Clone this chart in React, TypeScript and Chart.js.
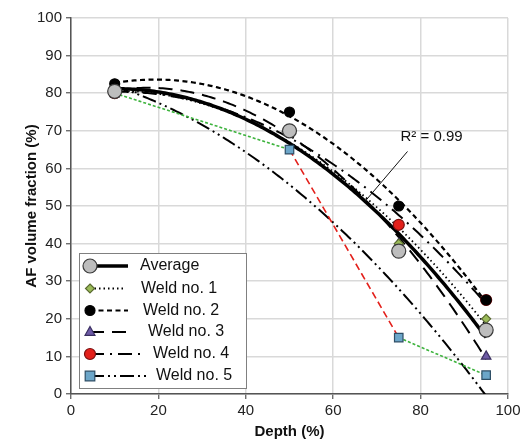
import { useEffect, useRef } from "react";
import { Chart, registerables } from "chart.js";
Chart.register(...registerables);

const depths = [10, 50, 75, 95];
const average = [80.5, 70, 38, 17];
const weld1 = [80, 70, 40, 20];
const weld2 = [82.5, 75, 50, 25];
const weld3 = [80.5, 70, 40, 10];
const weld4 = [80, 70, 45, 25];
const weld5 = [80, 65, 15, 5];
const seriesNames = ["Average", "Weld no. 1", "Weld no. 2", "Weld no. 3", "Weld no. 4", "Weld no. 5"];
const rSquaredLabel = "R² = 0.99";
const xTitle = "Depth (%)";
const yTitle = "AF volume fraction (%)";

const FONT = "'Liberation Sans', Arial, sans-serif";

function polyfit2(xs: number[], ys: number[]) {
  let s0 = 0, s1 = 0, s2 = 0, s3 = 0, s4 = 0, t0 = 0, t1 = 0, t2 = 0;
  xs.forEach((x, i) => {
    const y = ys[i];
    s0 += 1; s1 += x; s2 += x * x; s3 += x ** 3; s4 += x ** 4;
    t0 += y; t1 += x * y; t2 += x * x * y;
  });
  const M = [
    [s4, s3, s2, t2],
    [s3, s2, s1, t1],
    [s2, s1, s0, t0],
  ];
  for (let c = 0; c < 3; c++) {
    for (let r = c + 1; r < 3; r++) {
      const f = M[r][c] / M[c][c];
      for (let k = c; k < 4; k++) M[r][k] -= f * M[c][k];
    }
  }
  const sol = [0, 0, 0];
  for (let r = 2; r >= 0; r--) {
    let v = M[r][3];
    for (let k = r + 1; k < 3; k++) v -= M[r][k] * sol[k];
    sol[r] = v / M[r][r];
  }
  return (x: number) => sol[0] * x * x + sol[1] * x + sol[2];
}

function trend(ys: number[]) {
  const f = polyfit2(depths, ys);
  const pts: { x: number; y: number }[] = [];
  for (let x = depths[0]; x <= depths[depths.length - 1] + 1e-9; x += 0.5) pts.push({ x, y: f(x) });
  return pts;
}

const toPts = (ys: number[]) => depths.map((x, i) => ({ x, y: ys[i] }));

type Style = {
  pointStyle: string; radius: number; fill: string; stroke: string;
  dash: number[]; width: number; lineEnd: number; textX: number;
};
const styles: Style[] = [
  { pointStyle: "circle", radius: 7, fill: "#BDBDBD", stroke: "#3a3a3a", dash: [], width: 3.5, lineEnd: 128, textX: 140 },
  { pointStyle: "rectRot", radius: 4.5, fill: "#9BBB59", stroke: "#5a6a30", dash: [1.5, 3], width: 1.8, lineEnd: 124, textX: 141 },
  { pointStyle: "circle", radius: 5, fill: "#000000", stroke: "#000000", dash: [5, 3.5], width: 2.2, lineEnd: 128, textX: 143 },
  { pointStyle: "triangle", radius: 5.5, fill: "#6E5BA6", stroke: "#3a2f60", dash: [14, 8], width: 2, lineEnd: 134, textX: 148 },
  { pointStyle: "circle", radius: 5.5, fill: "#E3201B", stroke: "#7a1010", dash: [14, 6, 2, 6], width: 2, lineEnd: 145, textX: 153 },
  { pointStyle: "rect", radius: 6, fill: "#6CA6C9", stroke: "#2e4e66", dash: [14, 4, 2, 4, 2, 4], width: 2, lineEnd: 148, textX: 156 },
];
const seriesData = [average, weld1, weld2, weld3, weld4, weld5];

function drawMarker(ctx: CanvasRenderingContext2D, s: Style, x: number, y: number) {
  ctx.save();
  ctx.setLineDash([]);
  ctx.fillStyle = s.fill;
  ctx.strokeStyle = s.stroke;
  ctx.lineWidth = 1.2;
  const r = s.radius;
  ctx.beginPath();
  if (s.pointStyle === "circle") ctx.arc(x, y, r, 0, Math.PI * 2);
  else if (s.pointStyle === "rect") ctx.rect(x - r * 0.8, y - r * 0.8, r * 1.6, r * 1.6);
  else if (s.pointStyle === "rectRot") { ctx.moveTo(x, y - r); ctx.lineTo(x + r, y); ctx.lineTo(x, y + r); ctx.lineTo(x - r, y); ctx.closePath(); }
  else if (s.pointStyle === "triangle") { ctx.moveTo(x, y - r); ctx.lineTo(x + r * 0.9, y + r * 0.6); ctx.lineTo(x - r * 0.9, y + r * 0.6); ctx.closePath(); }
  ctx.fill();
  ctx.stroke();
  ctx.restore();
}

const overlayPlugin = {
  id: "overlay",
  afterDatasetsDraw(chart: any) {
    const ctx: CanvasRenderingContext2D = chart.ctx;
    const xs = chart.scales.x, ys = chart.scales.y;
    // R² annotation
    const avgFit = polyfit2(depths, average);
    const tx = xs.getPixelForValue(82.5), ty = ys.getPixelForValue(68.5);
    ctx.save();
    ctx.font = `15px ${FONT}`;
    ctx.fillStyle = "#111";
    ctx.textAlign = "center";
    ctx.textBaseline = "middle";
    ctx.fillText(rSquaredLabel, tx, ty);
    ctx.strokeStyle = "#111";
    ctx.lineWidth = 1;
    ctx.beginPath();
    ctx.moveTo(xs.getPixelForValue(77), ys.getPixelForValue(64.5));
    ctx.lineTo(xs.getPixelForValue(67.3), ys.getPixelForValue(avgFit(67.3)));
    ctx.stroke();
    ctx.restore();

    // Legend box
    ctx.save();
    const bx = 79, by = 253, bw = 167, bh = 135;
    ctx.fillStyle = "#fff";
    ctx.fillRect(bx, by, bw, bh);
    ctx.strokeStyle = "#808080";
    ctx.lineWidth = 1;
    ctx.strokeRect(bx + 0.5, by + 0.5, bw, bh);
    const rowY = [266, 288.5, 310.5, 332, 354, 376];
    styles.forEach((s, i) => {
      const y = rowY[i];
      ctx.save();
      ctx.strokeStyle = "#000";
      ctx.lineWidth = s.width;
      ctx.setLineDash(s.dash);
      ctx.beginPath();
      ctx.moveTo(90, y);
      ctx.lineTo(s.lineEnd, y);
      ctx.stroke();
      ctx.restore();
      drawMarker(ctx, s, 90, y);
      ctx.font = `16px ${FONT}`;
      ctx.fillStyle = "#111";
      ctx.textAlign = "left";
      ctx.textBaseline = "middle";
      ctx.fillText(seriesNames[i], s.textX, y);
    });
    ctx.restore();
  },
};

export default function App() {
  const ref = useRef<HTMLCanvasElement>(null);
  useEffect(() => {
    document.body.style.margin = "0";
    const datasets: any[] = [];
    // markers (on top)
    styles.forEach((s, i) => {
      datasets.push({
        type: "scatter",
        data: toPts(seriesData[i]),
        pointStyle: s.pointStyle,
        pointRadius: s.radius,
        pointBackgroundColor: s.fill,
        pointBorderColor: s.stroke,
        pointBorderWidth: 1.2,
        showLine: false,
        order: i === 0 ? 0 : 1,
      });
    });
    // Weld 5 connecting segments
    datasets.push({
      type: "line",
      data: toPts(weld5),
      borderWidth: 1.6,
      pointRadius: 0,
      fill: false,
      tension: 0,
      segment: {
        borderColor: (c: any) => (c.p0DataIndex === 1 ? "#E3201B" : "#3DB33D"),
        borderDash: (c: any) => (c.p0DataIndex === 1 ? [7, 4] : [3, 2]),
      },
      order: 3,
    });
    // trend lines
    styles.forEach((s, i) => {
      datasets.push({
        type: "line",
        data: trend(seriesData[i]),
        borderColor: "#000",
        borderWidth: s.width,
        borderDash: s.dash,
        pointRadius: 0,
        fill: false,
        tension: 0,
        order: i === 0 ? 2 : 4,
      });
    });

    const chart = new Chart(ref.current!, {
      type: "scatter",
      data: { datasets },
      options: {
        animation: false,
        responsive: false,
        layout: { padding: { top: 18, right: 17, left: 0, bottom: 0 } },
        plugins: { legend: { display: false }, tooltip: { enabled: false } },
        scales: {
          x: {
            type: "linear",
            min: 0,
            max: 100,
            afterFit: (s: any) => { s.height = 50; },
            ticks: { stepSize: 20, font: { size: 15, family: FONT }, color: "#222", padding: 3 },
            grid: { color: "#D9D9D9", lineWidth: 1.5, tickLength: 5, tickColor: "#555", tickWidth: 1.2 },
            border: { color: "#555", width: 1.5 },
            title: { display: true, text: xTitle, font: { size: 15, weight: "bold", family: FONT }, color: "#111", padding: { top: 0, bottom: 3 } },
          },
          y: {
            type: "linear",
            min: 0,
            max: 100,
            afterFit: (s: any) => { s.width = 71; },
            ticks: { stepSize: 10, font: { size: 15, family: FONT }, color: "#222", padding: 4 },
            grid: { color: "#D9D9D9", lineWidth: 1.5, tickLength: 5, tickColor: "#555", tickWidth: 1.2 },
            border: { color: "#555", width: 1.5 },
            title: { display: true, text: yTitle, font: { size: 15, weight: "bold", family: FONT }, color: "#111", padding: { top: 23, bottom: 0 } },
          },
        },
      } as any,
      plugins: [overlayPlugin],
    });
    return () => chart.destroy();
  }, []);
  return (
    <div style={{ width: 525, height: 444 }}>
      <canvas ref={ref} width={525} height={444} />
    </div>
  );
}
